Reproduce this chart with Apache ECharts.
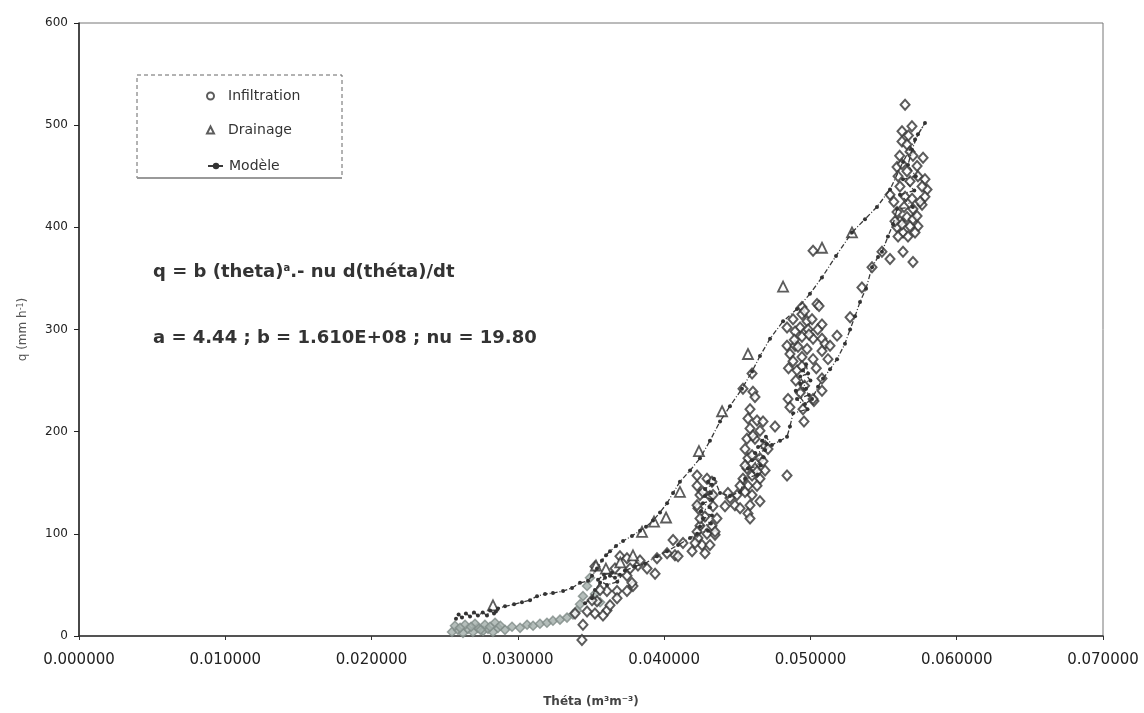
<!DOCTYPE html>
<html>
<head>
<meta charset="utf-8">
<script src="https://cdn.jsdelivr.net/npm/echarts@6/dist/echarts.min.js"></script>
<style>html,body{margin:0;padding:0;background:#fff;}#c{width:1144px;height:713px;}</style>
</head>
<body>
<div id="c"></div>
<script>
// ---- Data (theta in m3/m3, q in mm/h) ----
const xTicks = [0, 0.01, 0.02, 0.03, 0.04, 0.05, 0.06, 0.07];
const yTicks = [0, 100, 200, 300, 400, 500, 600];

const infiltration = [
[0.05647,520],[0.05694,499],[0.05626,494],[0.05626,484],[0.05660,481],[0.05681,474],[0.05770,468],[0.05592,459],[0.05729,460],[0.05599,450],[0.05735,450],[0.05783,447],[0.05797,437],[0.05763,440],[0.05544,432],[0.05783,430],[0.05763,422],[0.05592,415],[0.05701,418],[0.05660,410],[0.05612,406],[0.05735,401],[0.05592,400],[0.05681,401],[0.05633,395],[0.05599,391],[0.05667,391],[0.05715,395],[0.05626,403],[0.05578,406],[0.05701,408],[0.05729,411],[0.05489,376],[0.05544,369],[0.05633,376],[0.05701,366],[0.05421,361],[0.05352,341],[0.05271,312],
[0.05612,440],[0.05647,430],[0.05681,445],[0.05626,462],[0.05660,455],[0.05701,470],[0.05640,420],[0.05695,428],[0.05570,425],[0.05750,425],[0.05610,470],[0.05670,490],
[0.04942,322],[0.04942,315],[0.04881,310],[0.04977,308],[0.05011,310],[0.04840,302],[0.04929,302],[0.04895,298],[0.04984,300],[0.05079,305],[0.04942,293],[0.05018,291],[0.04840,284],[0.04895,284],[0.04977,281],[0.05079,291],[0.05100,286],[0.05182,294],[0.04860,276],[0.04942,273],[0.05018,271],[0.05079,279],[0.05120,271],[0.04881,269],[0.04908,260],[0.04942,264],[0.05079,252],[0.04847,232],[0.04860,224],[0.04949,222],[0.05024,230],[0.05079,240],[0.04956,210],[0.04758,205],[0.04915,283],[0.05134,284],[0.05018,232],[0.05045,325],[0.05059,323],[0.05018,377],
[0.04900,250],[0.04960,245],[0.04930,238],[0.04890,290],[0.04990,295],[0.05050,300],[0.04960,318],[0.04850,262],[0.05040,262],
[0.04601,257],[0.04539,242],[0.04607,239],[0.04621,234],
[0.04587,222],[0.04573,213],[0.04635,211],[0.04676,210],[0.04587,203],[0.04655,201],[0.04566,193],[0.04621,193],[0.04553,183],[0.04690,186],[0.04710,183],[0.04573,174],[0.04655,174],[0.04566,164],[0.04621,164],[0.04690,162],[0.04601,157],[0.04655,154],[0.04539,154],[0.04573,147],[0.04635,147],[0.04519,147],[0.04553,141],[0.04601,138],[0.04498,138],[0.04655,132],[0.04587,128],[0.04450,135],[0.04484,128],[0.04416,127],[0.04573,120],[0.04587,115],[0.04607,196],[0.04601,177],[0.04676,171],[0.04553,167],[0.04635,161],[0.04840,157],[0.04436,140],[0.04519,125],
[0.04225,147],[0.04293,154],[0.04327,151],[0.04245,138],[0.04313,137],[0.04231,125],[0.04334,127],[0.04279,117],[0.04245,108],[0.04327,108],[0.04293,100],[0.04348,99],[0.04231,96],[0.04259,89],[0.04313,89],[0.04279,81],[0.04211,91],[0.04191,83],[0.04225,157],[0.04265,141],[0.04334,138],[0.04225,128],[0.04245,115],[0.04348,102],[0.04225,102],[0.04361,115],
[0.04061,94],[0.04129,91],[0.04074,79],[0.04095,78],[0.04020,81],[0.03951,76],
[0.03527,68],[0.03698,78],[0.03767,66],[0.03821,69],[0.03883,66],[0.03938,61],[0.03746,59],[0.03787,49],[0.03678,44],[0.03609,25],[0.03527,22],[0.03391,22],[0.03582,20],[0.03664,66],[0.03746,76],[0.03835,74],[0.03445,11],[0.03438,-4],[0.03473,24],[0.03541,34],[0.03630,30],[0.03678,37],[0.03746,44],[0.03780,52],[0.03609,44],[0.03562,45],[0.03507,35]
];

const infiltrationLow = [
[0.02550,4],[0.02591,6],[0.02625,3],[0.02659,7],[0.02693,4],[0.02727,8],[0.02762,5],[0.02796,7],[0.02830,4],[0.02864,8],[0.02912,6],[0.02960,9],[0.03015,8],[0.03063,11],[0.03104,10],[0.03151,12],[0.03199,13],[0.03240,15],[0.03288,16],[0.03336,18],[0.03377,21],[0.03404,25],[0.03425,31],[0.03445,39],[0.03473,49],[0.03493,57],[0.03527,41],[0.03562,33],
[0.02570,10],[0.02639,11],[0.02707,12],[0.02775,11],[0.02844,13],[0.02605,8],[0.02680,9],[0.02745,6],[0.02810,9],[0.02880,10]
];

const drainage = [
[0.02830,30],[0.03534,69],[0.03602,66],[0.03700,72],[0.03787,79],[0.03849,102],[0.03931,112],[0.04013,116],[0.04108,141],[0.04238,181],[0.04396,220],[0.04573,276],[0.04813,342],[0.05079,380],[0.05284,395]
];

const modele = [
[0.03459,32],[0.03507,37],[0.03527,45],[0.03562,52],[0.03596,57],[0.03630,59],[0.03664,57],[0.03698,60],[0.03644,62],[0.03589,60],[0.03548,55],[0.03610,50],[0.03680,53],[0.03732,64],[0.03801,68],[0.03869,71],[0.03951,78],[0.04020,83],[0.04095,89],[0.04177,96],
[0.04225,100],[0.04300,103],[0.04245,107],[0.04320,110],[0.04265,115],[0.04327,118],[0.04252,122],[0.04313,126],[0.04265,130],[0.04327,133],[0.04279,137],[0.04320,140],[0.04279,144],[0.04327,148],[0.04300,151],[0.04341,154],
[0.04382,140],[0.04450,137],[0.04519,141],[0.04553,154],[0.04640,158],[0.04573,164],[0.04660,167],[0.04601,172],[0.04680,175],[0.04621,179],[0.04690,182],[0.04642,185],[0.04700,188],[0.04669,191],[0.04696,195],
[0.04737,187],[0.04792,191],[0.04840,195],[0.04860,205],[0.04881,218],[0.04980,222],[0.04908,232],[0.04990,236],[0.04929,247],[0.05000,250],[0.04949,260],[0.04970,266],[0.04984,257],[0.04930,254],[0.04970,242],[0.04900,240],[0.04963,227],
[0.05011,232],[0.05052,244],[0.05086,252],[0.05134,261],[0.05182,271],[0.05236,286],[0.05271,300],[0.05305,313],[0.05339,327],[0.05380,340],[0.05421,361],[0.05462,371],[0.05489,376],[0.05530,391],[0.05565,403],
[0.05592,418],[0.05700,420],[0.05612,432],[0.05710,436],[0.05633,447],[0.05720,450],[0.05667,461],[0.05694,476],[0.05735,491],[0.05783,502],
[0.05715,486],[0.05633,464],[0.05544,437],[0.05455,420],[0.05373,408],[0.05284,395],[0.05175,372],[0.05079,351],[0.04997,335],[0.04908,320],[0.04813,308],[0.04724,291],[0.04655,274],[0.04601,259],[0.04532,242],[0.04450,225],[0.04382,210],[0.04313,191],[0.04245,174],[0.04177,162],[0.04108,151],[0.04061,140],[0.04020,130],[0.03972,121],[0.03924,113],[0.03876,107],[0.03835,103],[0.03780,98],[0.03719,93],[0.03671,88],[0.03630,83],[0.03603,79],[0.03575,74],[0.03541,66],[0.03507,59],[0.03480,54],[0.03425,52],[0.03370,47],[0.03309,44],[0.03240,42],[0.03186,41],[0.03131,39],[0.03083,35],[0.03028,33],[0.02974,31],[0.02912,29],
[0.02864,27],[0.02850,24],[0.02837,22],[0.02810,25],[0.02789,20],[0.02760,23],[0.02727,20],[0.02700,23],[0.02673,19],[0.02645,22],[0.02618,18],[0.02595,21],[0.02577,17]
];

const chart = echarts.init(document.getElementById('c'), null, {renderer: 'canvas'});
const ink = '#333';
const legendText = {fontFamily: 'DejaVu Sans', fontSize: 14, color: '#333'};
chart.setOption({
  animation: false,
  backgroundColor: '#fff',
  grid: {left: 79, right: 41, top: 23, bottom: 75, show: true, borderColor: '#777', borderWidth: 1},
  xAxis: {
    type: 'value', min: xTicks[0], max: xTicks[xTicks.length - 1], interval: 0.01,
    name: 'Théta (m³m⁻³)', nameLocation: 'middle', nameGap: 60,
    nameTextStyle: {fontFamily: 'DejaVu Sans', fontSize: 12, fontWeight: 'bold', color: '#444'},
    axisLine: {show: true, onZero: false, lineStyle: {color: '#333', width: 1.5}},
    axisTick: {show: true, length: 4, lineStyle: {color: '#333'}},
    axisLabel: {margin: 17, fontFamily: 'DejaVu Sans', fontSize: 15, color: '#222', formatter: v => v.toFixed(6)},
    splitLine: {show: false}
  },
  yAxis: {
    type: 'value', min: yTicks[0], max: yTicks[yTicks.length - 1], interval: 100,
    name: '{a|q (mm h}{b|-1}{a|)}', nameLocation: 'middle', nameGap: 50,
    nameTextStyle: {rich: {
      a: {fontFamily: 'DejaVu Sans', fontSize: 12, color: '#555'},
      b: {fontFamily: 'DejaVu Sans', fontSize: 8, color: '#555', verticalAlign: 'top'}
    }},
    axisLine: {show: true, lineStyle: {color: '#222', width: 1.5}},
    axisTick: {show: true, length: 5, lineStyle: {color: '#222'}},
    axisLabel: {margin: 11, fontFamily: 'DejaVu Sans', fontSize: 12, color: '#222'},
    splitLine: {show: false}
  },
  legend: [
    {orient: 'vertical', left: 201, top: 84, itemGap: 20, itemWidth: 7, itemHeight: 7,
     textStyle: Object.assign({padding: [0, 0, 0, 9]}, legendText),
     data: [{name: 'Infiltration', icon: 'circle'}, {name: 'Drainage', icon: 'triangle'}]},
    {orient: 'vertical', left: 202, top: 154, itemWidth: 16, itemHeight: 8,
     textStyle: legendText,
     data: [{name: 'Modèle'}]}
  ],
  graphic: [
    {type: 'rect', z: 10, silent: true, shape: {x: 137, y: 75, width: 205, height: 103},
     style: {fill: 'none', stroke: '#666', lineWidth: 1, lineDash: [4, 3]}},
    {type: 'line', z: 10, silent: true, shape: {x1: 137, y1: 178, x2: 342, y2: 178},
     style: {stroke: '#999', lineWidth: 2}},
    {type: 'text', left: 153, top: 263, z: 10, silent: true,
     style: {text: '{m|q = b (theta)}{s|a}{m|.- nu d(théta)/dt}', rich: {
       m: {fontFamily: 'DejaVu Sans', fontSize: 18, fontWeight: 'bold', fill: '#333'},
       s: {fontFamily: 'DejaVu Sans', fontSize: 10, fontWeight: 'bold', fill: '#333', verticalAlign: 'top'}
     }}},
    {type: 'text', left: 153, top: 329, z: 10, silent: true,
     style: {text: 'a = 4.44 ; b = 1.610E+08 ; nu = 19.80', fontFamily: 'DejaVu Sans', fontSize: 18, fontWeight: 'bold', fill: '#333'}}
  ],
  series: [
    {name: 'Infiltration', type: 'scatter', data: infiltration, symbol: 'diamond', symbolSize: [9, 10], clip: false, z: 2,
     itemStyle: {color: '#fff', borderColor: ink, borderWidth: 2}},
    {name: 'Infiltration (début)', type: 'scatter', data: infiltrationLow, symbol: 'diamond', symbolSize: 9, z: 1,
     itemStyle: {color: '#a3aeaa', borderColor: '#7f8b87', borderWidth: 1.5}},
    {name: 'Drainage', type: 'scatter', data: drainage, symbol: 'triangle', symbolSize: 10, z: 3,
     itemStyle: {color: '#fff', borderColor: ink, borderWidth: 1.8}},
    {name: 'Modèle', type: 'line', data: modele, symbol: 'circle', symbolSize: 4, showSymbol: true, z: 4,
     itemStyle: {color: '#333'}, lineStyle: {color: '#3a3a3a', width: 1.3, type: [5, 2, 1, 2]}}
  ]
});
</script>
</body>
</html>
